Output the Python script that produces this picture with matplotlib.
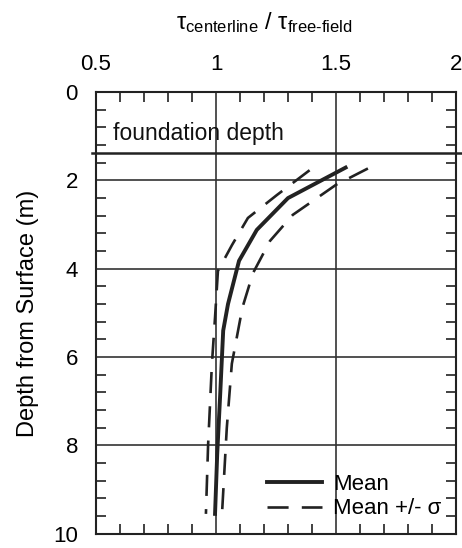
import matplotlib
matplotlib.use("Agg")
import matplotlib.pyplot as plt
from matplotlib.ticker import MultipleLocator

plt.rcParams['font.family'] = ['Liberation Sans', 'DejaVu Sans']
plt.rcParams['mathtext.fontset'] = 'custom'
plt.rcParams['mathtext.rm'] = 'Liberation Sans'
plt.rcParams['mathtext.it'] = 'Liberation Sans:italic'

# Data (ratio, depth)
mean_ratio = [1.54, 1.30, 1.17, 1.096, 1.05, 1.03, 1.017, 1.005, 0.996]
mean_depth = [1.71, 2.40, 3.12, 3.82, 4.80, 5.40, 6.90, 8.20, 9.55]
upper_ratio = [1.633, 1.50, 1.32, 1.225, 1.154, 1.11, 1.066, 1.045, 1.025]
upper_depth = [1.73, 2.10, 2.78, 3.37, 4.10, 4.88, 6.15, 7.60, 9.55]
lower_ratio = [1.39, 1.254, 1.133, 1.067, 1.008, 0.996, 0.983, 0.967, 0.958]
lower_depth = [1.77, 2.33, 2.85, 3.46, 4.05, 5.10, 6.15, 8.00, 9.55]
foundation_depth = 1.37
x_ticks = [0.5, 1, 1.5, 2]
x_ticklabels = ['0.5', '1', '1.5', '2']
y_ticks = [0, 2, 4, 6, 8, 10]

fig = plt.figure(figsize=(4.62, 5.48), dpi=100)
ax = fig.add_axes([0.2078, 0.026, 0.7792, 0.806])

ax.set_xlim(0.5, 2)
ax.set_ylim(10, 0)

for xv in [1, 1.5]:
    ax.axvline(xv, color='#333333', lw=1.2, zorder=1)
for yv in [2, 4, 6, 8]:
    ax.axhline(yv, color='#333333', lw=1.2, zorder=1)

ax.axhline(foundation_depth, xmin=-0.01, xmax=1.015, color='#222222', lw=1.8,
           clip_on=False, zorder=2)
ax.text(0.57, foundation_depth - 0.17, 'foundation depth', fontsize=16.5,
        ha='left', va='bottom', color='#111111')

ax.plot(mean_ratio, mean_depth, color='#222222', lw=2.8, label='Mean', zorder=3)
ax.plot(upper_ratio, upper_depth, color='#222222', lw=1.9, dashes=(8, 5),
        label='Mean +/- \u03c3', zorder=3)
ax.plot(lower_ratio, lower_depth, color='#222222', lw=1.9, dashes=(8, 5), zorder=3)

ax.xaxis.set_ticks_position('both')
ax.yaxis.set_ticks_position('both')
ax.xaxis.set_label_position('top')
ax.set_xticks(x_ticks)
ax.set_xticklabels(x_ticklabels)
ax.set_yticks(y_ticks)
ax.xaxis.set_minor_locator(MultipleLocator(0.1))
ax.yaxis.set_minor_locator(MultipleLocator(0.4))
ax.tick_params(axis='x', which='both', direction='in', labeltop=True,
               labelbottom=False, labelsize=16, pad=12)
ax.tick_params(axis='y', which='both', direction='in', labelleft=True,
               labelright=False, labelsize=16, pad=13)
ax.tick_params(which='major', length=0)
ax.tick_params(which='minor', length=7, width=1.3, color='#333333')
for s in ax.spines.values():
    s.set_linewidth(1.5)
    s.set_color('#222222')

ax.set_xlabel('\u03c4$_{\\mathrm{centerline}}$ / \u03c4$_{\\mathrm{free\\text{-}field}}$',
              fontsize=17, labelpad=18)
ax.xaxis.label.set_x(0.467)
ax.set_ylabel('Depth from Surface (m)', fontsize=17, labelpad=10)

leg = ax.legend(loc='lower right', frameon=False, fontsize=16, handlelength=2.5,
                handletextpad=0.5, borderaxespad=0.25, labelspacing=0.15)

fig.savefig('out.png', dpi=100)
